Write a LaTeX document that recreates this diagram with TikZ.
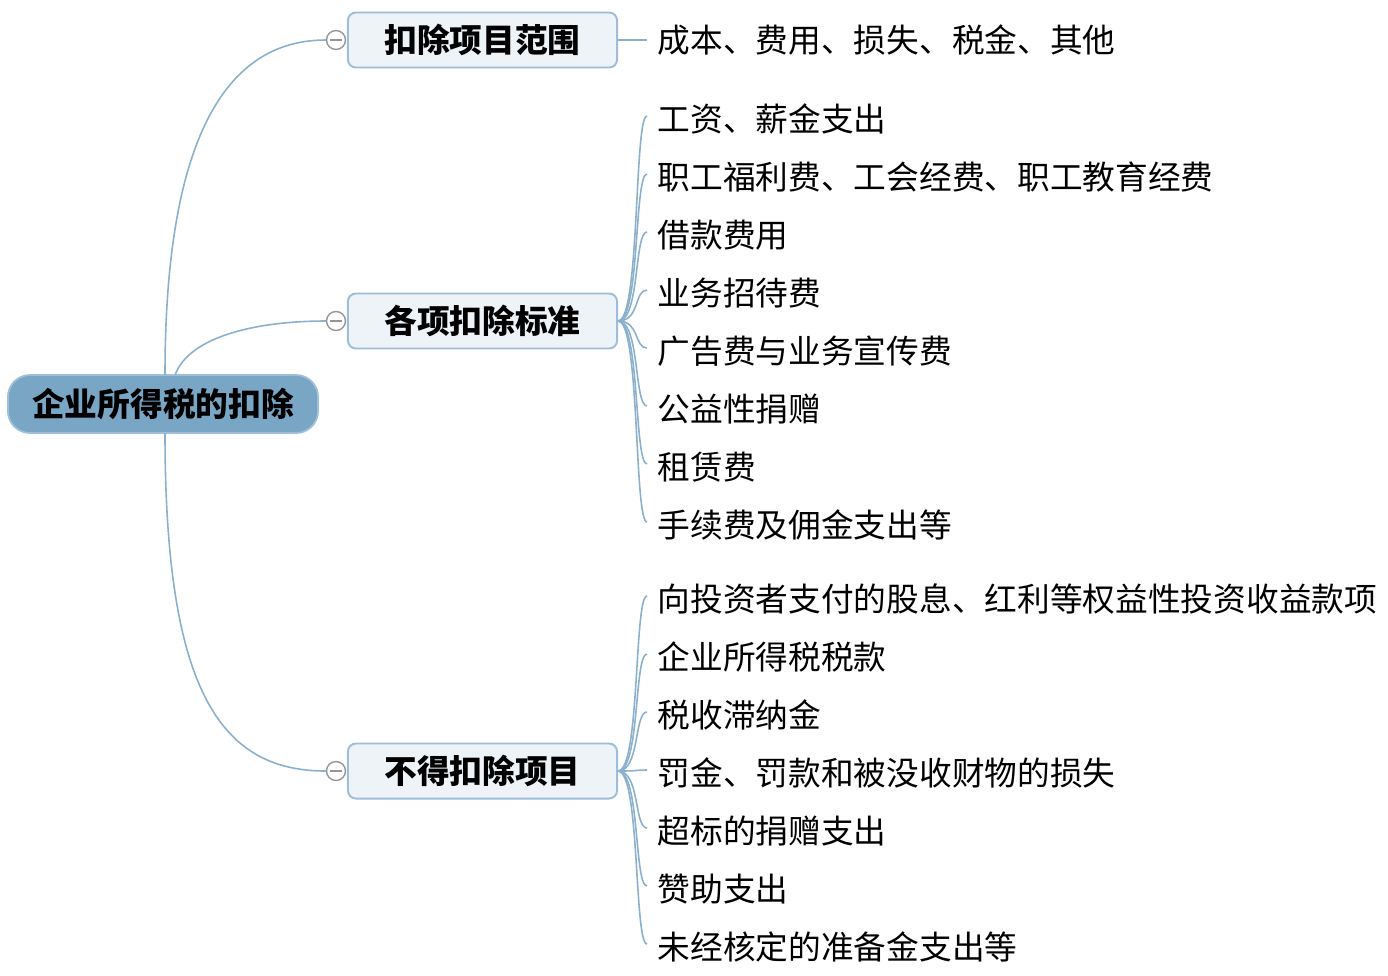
\documentclass[tikz,border=0pt]{standalone}
\usepackage{fontspec}
\setmainfont{Noto Sans CJK SC}
\usetikzlibrary{positioning}
\definecolor{linkblue}{RGB}{139,176,205}
\definecolor{rootfill}{RGB}{122,166,198}
\definecolor{rootedge}{RGB}{160,192,216}
\definecolor{palebox}{RGB}{238,243,248}
\definecolor{boxedge}{RGB}{157,189,216}
\definecolor{knobgray}{RGB}{150,150,150}
\tikzset{
  rootbox/.style={draw=rootedge,fill=rootfill,line width=0.5pt,rounded corners=2.2mm,
                  minimum width=3.1cm,minimum height=0.58cm,inner sep=0pt,
                  font=\fontsize{9.3}{11}\selectfont\bfseries},
  topic/.style={draw=boxedge,fill=palebox,line width=0.55pt,rounded corners=0.8mm,
                minimum width=2.69cm,minimum height=0.55cm,inner sep=0pt,
                font=\fontsize{9.3}{11}\selectfont\bfseries},
  leaf/.style={anchor=west,inner xsep=0.1cm,inner ysep=0pt,
               font=\fontsize{9.3}{11}\selectfont},
  knob/.style={circle,draw=knobgray,fill=white,line width=0.4pt,minimum size=0.19cm,inner sep=0pt,
               path picture={\draw[knobgray,line width=0.4pt]
                 ([xshift=-0.06cm]path picture bounding box.center) --
                 ([xshift=0.06cm]path picture bounding box.center);}},
  link/.style={draw=linkblue,line width=0.45pt}
}
\begin{document}
\begin{tikzpicture}[x=0.01cm,y=-0.01cm]
    \useasboundingbox (0,0) rectangle (1388,975);
    % root and main topics
    \node[rootbox] (root) at (163,404) {企业所得税的扣除};
    \node[topic] (scope) at (482.5,40) {扣除项目范围};
    \node[topic] (std) at (482.5,321) {各项扣除标准};
    \node[topic] (excl) at (482.5,771) {不得扣除项目};
    \node[knob] (k1) at (336,40) {};
    \node[knob] (k2) at (336,321) {};
    \node[knob] (k3) at (336,771) {};
    \coordinate (r1) at (165,375);
    \coordinate (r2) at (175,375);
    \coordinate (r3) at (165,433);
    \draw[link] (r1) .. controls (165,150) and (220,40) .. (k1.west);
    \draw[link] (r2) .. controls (190,335) and (260,321) .. (k2.west);
    \draw[link] (r3) .. controls (165,690) and (220,771) .. (k3.west);
    % leaves
    \node[leaf] (a1) at (647,40) {成本、费用、损失、税金、其他};
    \node[leaf] (b1) at (647,119) {工资、薪金支出};
    \node[leaf] (b2) at (647,177) {职工福利费、工会经费、职工教育经费};
    \node[leaf] (b3) at (647,235) {借款费用};
    \node[leaf] (b4) at (647,293) {业务招待费};
    \node[leaf] (b5) at (647,351) {广告费与业务宣传费};
    \node[leaf] (b6) at (647,409) {公益性捐赠};
    \node[leaf] (b7) at (647,467) {租赁费};
    \node[leaf] (b8) at (647,525) {手续费及佣金支出等};
    \node[leaf] (c1) at (647,599) {向投资者支付的股息、红利等权益性投资收益款项};
    \node[leaf] (c2) at (647,657) {企业所得税税款};
    \node[leaf] (c3) at (647,715) {税收滞纳金};
    \node[leaf] (c4) at (647,773) {罚金、罚款和被没收财物的损失};
    \node[leaf] (c5) at (647,831) {超标的捐赠支出};
    \node[leaf] (c6) at (647,889) {赞助支出};
    \node[leaf] (c7) at (647,947) {未经核定的准备金支出等};
    \draw[link] (scope.east) -- (a1.west);
    \foreach \n in {b1,b2,b3,b4,b5,b6,b7,b8}
      \draw[link] (std.east) .. controls +(22,0) and +(-13,0) .. ([yshift=0.03cm]\n.west);
    \foreach \n in {c1,c2,c3,c4,c5,c6,c7}
      \draw[link] (excl.east) .. controls +(22,0) and +(-13,0) .. ([yshift=0.03cm]\n.west);
\end{tikzpicture}
\end{document}
